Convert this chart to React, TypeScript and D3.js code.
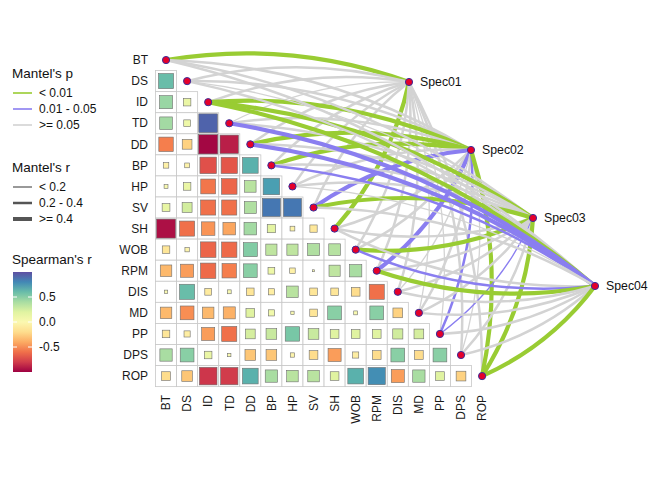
import React from "react";
import * as d3 from "d3";

const WIDTH = 669;
const HEIGHT = 484;

const envVars = ["BT", "DS", "ID", "TD", "DD", "BP", "HP", "SV", "SH", "WOB", "RPM", "DIS", "MD", "PP", "DPS", "ROP"];
const specs = ["Spec01", "Spec02", "Spec03", "Spec04"];

// Spearman's r, lower triangle: row i holds columns 0..i-1
const corRows = [
  [],
  [0.6],
  [0.45, 0.15],
  [0.42, 0.12, 0.93],
  [-0.55, -0.25, -0.98, -0.9],
  [-0.08, -0.06, -0.72, -0.7, 0.65],
  [0.04, 0.15, -0.58, -0.64, 0.35, 0.72],
  [0.16, 0.26, -0.6, -0.6, 0.38, 0.86, 0.86],
  [-0.95, -0.6, -0.48, -0.42, 0.42, 0.18, -0.06, -0.14],
  [-0.15, -0.05, -0.64, -0.62, 0.52, 0.33, 0.33, 0.38, 0.36],
  [-0.35, -0.45, -0.62, -0.55, 0.5, 0.12, -0.08, 0.01, 0.33, 0.4],
  [0.03, 0.6, -0.12, 0.04, -0.15, -0.1, 0.35, -0.15, -0.15, -0.2, -0.6],
  [-0.35, -0.5, -0.35, -0.38, 0.2, 0.1, 0.03, -0.15, 0.5, 0.04, 0.5, -0.25],
  [-0.15, -0.1, -0.45, -0.6, 0.25, 0.3, 0.55, 0.3, 0.2, 0.2, 0.2, 0.27, 0.25],
  [0.4, 0.5, 0.15, 0.03, -0.3, -0.3, -0.05, -0.2, -0.45, -0.1, -0.2, 0.5, -0.2, 0.5],
  [-0.2, -0.3, -0.82, -0.8, 0.65, 0.4, 0.35, 0.35, 0.2, 0.65, 0.78, -0.45, 0.4, 0.2, -0.25],
];

// Mantel test results, one value per env variable
const spec01R = [0.52, 0.25, 0.28, 0.15, 0.31, 0.26, 0.22, 0.27, 0.46, 0.24, 0.29, 0.23, 0.12, 0.16, 0.27, 0.3];
const spec01P = [0.001, 0.21, 0.14, 0.45, 0.09, 0.32, 0.18, 0.11, 0.002, 0.27, 0.15, 0.38, 0.52, 0.41, 0.23, 0.08];
const spec02R = [0.22, 0.26, 0.51, 0.24, 0.48, 0.45, 0.27, 0.41, 0.25, 0.3, 0.43, 0.14, 0.28, 0.33, 0.17, 0.49];
const spec02P = [0.31, 0.17, 0.001, 0.12, 0.003, 0.004, 0.26, 0.024, 0.19, 0.08, 0.031, 0.47, 0.22, 0.042, 0.36, 0.001];
const spec03R = [0.24, 0.16, 0.44, 0.26, 0.31, 0.27, 0.23, 0.47, 0.25, 0.42, 0.3, 0.22, 0.26, 0.18, 0.28, 0.46];
const spec03P = [0.28, 0.44, 0.006, 0.16, 0.07, 0.2, 0.33, 0.002, 0.14, 0.008, 0.06, 0.25, 0.19, 0.038, 0.29, 0.003];
const spec04R = [0.29, 0.23, 0.45, 0.42, 0.44, 0.36, 0.13, 0.27, 0.24, 0.33, 0.5, 0.26, 0.22, 0.3, 0.25, 0.53];
const spec04P = [0.13, 0.24, 0.009, 0.017, 0.022, 0.035, 0.51, 0.1, 0.3, 0.041, 0.002, 0.17, 0.27, 0.09, 0.35, 0.001];

const pLabels = ["< 0.01", "0.01 - 0.05", ">= 0.05"];
const rLabels = ["< 0.2", "0.2 - 0.4", ">= 0.4"];
const colorTicks = [0.5, 0.0, -0.5];

const mantel = [
  { spec: "Spec01", r: spec01R, p: spec01P },
  { spec: "Spec02", r: spec02R, p: spec02P },
  { spec: "Spec03", r: spec03R, p: spec03P },
  { spec: "Spec04", r: spec04R, p: spec04P },
].flatMap(s => envVars.map((env, i) => ({ spec: s.spec, env, idx: i, r: s.r[i], p: s.p[i] })));

const FONT = "'Liberation Sans', Arial, Helvetica, sans-serif";
const GREEN = "#99CC33";
const PURPLE = "#8A7EF0";
const GREY = "#D3D3D3";

const pColour = (p: number) => (p < 0.01 ? GREEN : p < 0.05 ? PURPLE : GREY);
const rWidth = (r: number) => (r < 0.2 ? 1.3 : r < 0.4 ? 2.5 : 4.2);

export default function App() {
  const cell = 21.07;
  const x = d3.scaleBand().domain(envVars).range([155.5, 155.5 + cell * envVars.length]);
  const y = d3.scaleBand().domain(envVars).range([49.5, 49.5 + cell * envVars.length]);
  const bw = x.bandwidth();
  const cx = (v: string) => (x(v) as number) + bw / 2;
  const cy = (v: string) => (y(v) as number) + bw / 2;

  const specX = d3.scalePoint().domain(specs).range([409, 595]);
  const specY = d3.scalePoint().domain(specs).range([82, 286]);

  const fill = d3.scaleSequential(d3.interpolateSpectral).domain([-1, 1]);
  const side = d3.scaleSqrt().domain([0, 1]).range([0, bw - 1.6]);

  const cells = corRows.flatMap((row, i) =>
    row.map((r, j) => ({ row: envVars[i], col: envVars[j], r }))
  );

  // curved link, bulge side depends on whether the env node is in upper or lower half
  const couplePath = (d: any) => {
    const vx = cx(d.env), vy = cy(d.env);
    const sx = specX(d.spec) as number, sy = specY(d.spec) as number;
    const dx = sx - vx, dy = sy - vy;
    const L = Math.hypot(dx, dy);
    let nx = dy / L, ny = -dx / L;
    if (d.idx >= envVars.length / 2) { nx = -nx; ny = -ny; }
    const k = 0.13 * L;
    const p = d3.path();
    p.moveTo(vx, vy);
    p.quadraticCurveTo((vx + sx) / 2 + nx * k, (vy + sy) / 2 + ny * k, sx, sy);
    return p.toString();
  };

  // colour bar
  const barTop = 272, barH = 100, barX = 13, barW = 19;
  const barY = d3.scaleLinear().domain([1, -1]).range([barTop, barTop + barH]);
  const stops = d3.range(0, 1.0001, 0.1);

  return (
    <svg width={WIDTH} height={HEIGHT} style={{ position: "absolute", left: 0, top: 0, background: "#fff" }}
         fontFamily={FONT}>
      <defs>
        <linearGradient id="spearman" x1="0" y1="0" x2="0" y2="1">
          {stops.map(t => (
            <stop key={t} offset={t} stopColor={fill(1 - 2 * t)} />
          ))}
        </linearGradient>
      </defs>

      {/* grid cells and squares */}
      <g>
        {cells.map(d => (
          <rect key={"c" + d.row + d.col} x={x(d.col)} y={y(d.row)} width={bw} height={bw}
                fill="#fff" stroke="#C8C8C8" strokeWidth={0.8} />
        ))}
        {cells.map(d => {
          const s = side(Math.abs(d.r));
          return (
            <rect key={"s" + d.row + d.col} x={cx(d.col) - s / 2} y={cy(d.row) - s / 2} width={s} height={s}
                  fill={fill(d.r)} stroke="#6E6E6E" strokeWidth={0.6} />
          );
        })}
      </g>

      {/* mantel links */}
      <g fill="none">
        {mantel.map(d => (
          <path key={d.spec + d.env} d={couplePath(d)} stroke={pColour(d.p)} strokeWidth={rWidth(d.r)} />
        ))}
      </g>

      {/* nodes */}
      <g>
        {envVars.map(v => (
          <circle key={v} cx={cx(v)} cy={cy(v)} r={3.6} fill="#E5002A" stroke="#3A2E9C" strokeWidth={1} />
        ))}
        {specs.map(s => (
          <g key={s}>
            <circle cx={specX(s)} cy={specY(s)} r={3.6} fill="#E5002A" stroke="#3A2E9C" strokeWidth={1} />
            <text x={(specX(s) as number) + 11} y={(specY(s) as number) + 4.3} fontSize={12.3} fill="#111">{s}</text>
          </g>
        ))}
      </g>

      {/* axes */}
      <g fontSize={12} fill="#1a1a1a">
        {envVars.map(v => (
          <text key={"y" + v} x={148} y={cy(v) + 4.2} textAnchor="end">{v}</text>
        ))}
        {envVars.map(v => (
          <text key={"x" + v} transform={`translate(${cx(v) + 4.3},395) rotate(-90)`} textAnchor="end">{v}</text>
        ))}
      </g>

      {/* legends */}
      <g fill="#111">
        <text x={12} y={78} fontSize={13.5}>Mantel's p</text>
        {pLabels.map((l, i) => (
          <g key={l} transform={`translate(0,${93 + i * 16})`}>
            <line x1={13} x2={32} y1={0} y2={0} stroke={[GREEN, PURPLE, GREY][i]} strokeWidth={1.6} />
            <text x={39} y={4.2} fontSize={12}>{l}</text>
          </g>
        ))}

        <text x={12} y={172} fontSize={13.5}>Mantel's r</text>
        {rLabels.map((l, i) => (
          <g key={l} transform={`translate(0,${187 + i * 16})`}>
            <line x1={13} x2={32} y1={0} y2={0} stroke="#555" strokeWidth={[1.2, 2.5, 4][i]} />
            <text x={39} y={4.2} fontSize={12}>{l}</text>
          </g>
        ))}

        <text x={12} y={264} fontSize={13.5}>Spearman's r</text>
        <rect x={barX} y={barTop} width={barW} height={barH} fill="url(#spearman)" />
        {colorTicks.map(t => (
          <g key={t}>
            <line x1={barX} x2={barX + 4} y1={barY(t)} y2={barY(t)} stroke="#fff" strokeWidth={1} />
            <line x1={barX + barW - 4} x2={barX + barW} y1={barY(t)} y2={barY(t)} stroke="#fff" strokeWidth={1} />
            <text x={39} y={barY(t) + 4.2} fontSize={12}>{t.toFixed(1)}</text>
          </g>
        ))}
      </g>
    </svg>
  );
}
